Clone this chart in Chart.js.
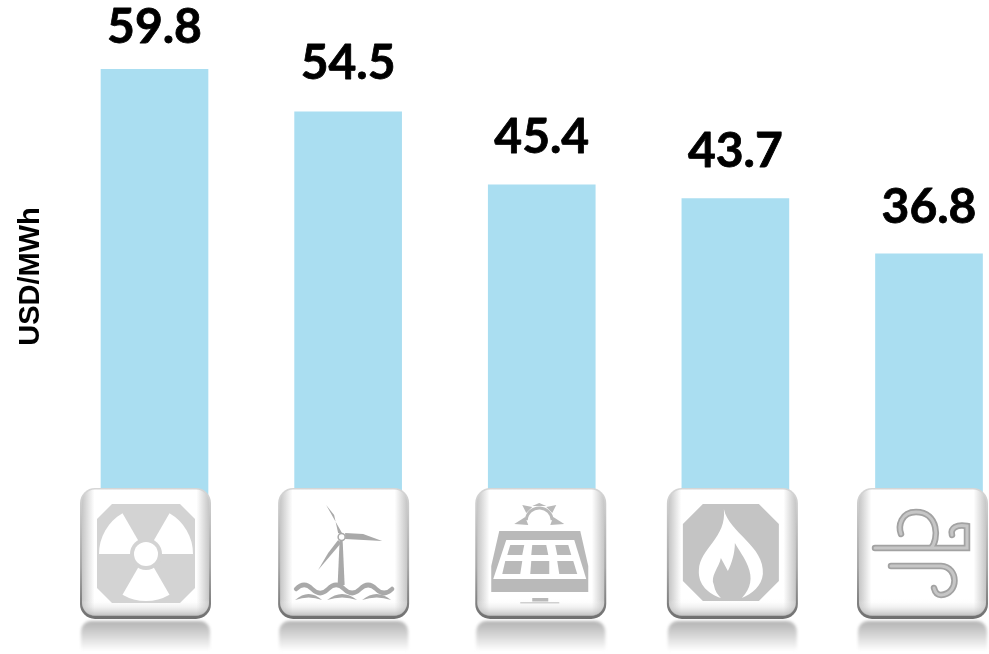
<!DOCTYPE html>
<html>
<head>
<meta charset="utf-8">
<script src="https://cdn.jsdelivr.net/npm/chart.js@4"></script>
<style>
  html, body { margin: 0; padding: 0; background: #fff; overflow: hidden; }
  #wrap { position: relative; width: 989px; height: 654px; }
</style>
</head>
<body>
<div id="wrap"><canvas id="chart"></canvas></div>
<script>
const categories = ["Nuclear", "Offshore wind", "Solar PV", "Gas", "Onshore wind"];
const lcoeValues = [59.8, 54.5, 45.4, 43.7, 36.8];
const valueLabels = ["59.8", "54.5", "45.4", "43.7", "36.8"];
const iconNames = ["nuclear", "offshore", "solar", "gas", "wind"];
// tiles sit a bit left of the bars in the original
const tileShift = [-9, -4.5, -1, -3, -6.5];
// gap between a bar top and its label baseline
const labelGap = [26, 33, 32, 32, 31];

const TILE = 131;
const TILE_TOP = 488;

function octagon(ctx, x0, y0, x1, y1, c) {
  ctx.beginPath();
  ctx.moveTo(x0 + c, y0);
  ctx.lineTo(x1 - c, y0);
  ctx.lineTo(x1, y0 + c);
  ctx.lineTo(x1, y1 - c);
  ctx.lineTo(x1 - c, y1);
  ctx.lineTo(x0 + c, y1);
  ctx.lineTo(x0, y1 - c);
  ctx.lineTo(x0, y0 + c);
  ctx.closePath();
  ctx.fill();
}

function drawNuclear(ctx) {
  ctx.fillStyle = "#d3d3d3";
  octagon(ctx, 17, 16, 115, 115, 15);
  ctx.fillStyle = "#fff";
  [[Math.PI, Math.PI * 4 / 3], [Math.PI * 5 / 3, Math.PI * 2], [Math.PI / 3, Math.PI * 2 / 3]].forEach((a) => {
    ctx.beginPath();
    ctx.moveTo(66, 66);
    ctx.arc(66, 66, 47, a[0], a[1]);
    ctx.closePath();
    ctx.fill();
  });
  ctx.fillStyle = "#d3d3d3";
  ctx.beginPath();
  ctx.arc(66, 66, 16, 0, Math.PI * 2);
  ctx.fill();
  ctx.fillStyle = "#fff";
  ctx.beginPath();
  ctx.arc(66, 66, 12, 0, Math.PI * 2);
  ctx.fill();
}

function wave(ctx, x0, y, step, amp, count) {
  ctx.beginPath();
  ctx.moveTo(x0, y);
  for (let i = 0; i < count; i++) {
    ctx.quadraticCurveTo(x0 + step * (i + 0.5), y + (i % 2 ? amp : -amp), x0 + step * (i + 1), y);
  }
  ctx.stroke();
}

function drawOffshore(ctx) {
  ctx.fillStyle = "#a9a9a9";
  // tower
  ctx.beginPath();
  ctx.moveTo(61.5, 52);
  ctx.lineTo(64.5, 52);
  ctx.lineTo(66.5, 97);
  ctx.lineTo(59.5, 97);
  ctx.closePath();
  ctx.fill();
  // blades
  [[[48, 17], [56, 27], [60, 45], [65, 47]],
   [[104, 53], [85, 46], [67, 45], [67, 51]],
   [[40, 82], [50, 65], [60, 52], [63, 55]]].forEach((b) => {
    ctx.beginPath();
    ctx.moveTo(b[0][0], b[0][1]);
    ctx.lineTo(b[1][0], b[1][1]);
    ctx.lineTo(b[2][0], b[2][1]);
    ctx.lineTo(b[3][0], b[3][1]);
    ctx.closePath();
    ctx.fill();
  });
  ctx.fillStyle = "#fff";
  ctx.strokeStyle = "#a9a9a9";
  ctx.lineWidth = 1.5;
  ctx.beginPath();
  ctx.arc(63.5, 49, 3.5, 0, Math.PI * 2);
  ctx.fill();
  ctx.stroke();
  ctx.lineWidth = 4.5;
  ctx.lineCap = "round";
  wave(ctx, 18, 101, 16, 8, 6);
  ctx.lineCap = "butt";
  [[17, 44], [49, 79], [84, 113]].forEach((w) => {
    ctx.fillStyle = "#a9a9a9";
    ctx.beginPath();
    ctx.moveTo(w[0], 112);
    ctx.quadraticCurveTo((w[0] + w[1]) / 2, 100, w[1], 112);
    ctx.quadraticCurveTo((w[0] + w[1]) / 2, 107, w[0], 112);
    ctx.fill();
  });
}

function drawSolar(ctx) {
  ctx.fillStyle = "#b9b9b9";
  ctx.strokeStyle = "#b9b9b9";
  ctx.lineWidth = 3;
  ctx.beginPath();
  ctx.arc(64, 33, 13, Math.PI * 1.02, Math.PI * 1.98);
  ctx.stroke();
  [[[39, 36], [50, 29], [53, 37]], [[89, 36], [78, 29], [75, 37]],
   [[47, 17], [57, 19], [51, 25]], [[81, 17], [71, 19], [77, 25]],
   [[57, 18], [64, 15], [71, 18]]].forEach((t) => {
    ctx.beginPath();
    ctx.moveTo(t[0][0], t[0][1]);
    ctx.lineTo(t[1][0], t[1][1]);
    ctx.lineTo(t[2][0], t[2][1]);
    ctx.closePath();
    ctx.fill();
  });
  // panel body
  ctx.beginPath();
  ctx.moveTo(24, 43);
  ctx.lineTo(105, 43);
  ctx.lineTo(113, 78);
  ctx.lineTo(113, 104);
  ctx.lineTo(16, 104);
  ctx.lineTo(16, 78);
  ctx.closePath();
  ctx.fill();
  ctx.fillStyle = "#fff";
  ctx.beginPath();
  ctx.moveTo(31, 52);
  ctx.lineTo(99, 52);
  ctx.lineTo(111, 91);
  ctx.lineTo(18, 91);
  ctx.closePath();
  ctx.fill();
  ctx.fillStyle = "#b9b9b9";
  [[[35, 57], [49, 57], [47, 67], [32, 67]],
   [[57, 57], [71, 57], [73, 67], [56, 67]],
   [[80, 57], [93, 57], [96, 67], [82, 67]],
   [[30, 73], [47, 73], [45, 86], [27, 86]],
   [[56, 73], [74, 73], [74, 86], [55, 86]],
   [[82, 73], [98, 73], [102, 86], [84, 86]]].forEach((c) => {
    ctx.beginPath();
    ctx.moveTo(c[0][0], c[0][1]);
    ctx.lineTo(c[1][0], c[1][1]);
    ctx.lineTo(c[2][0], c[2][1]);
    ctx.lineTo(c[3][0], c[3][1]);
    ctx.closePath();
    ctx.fill();
  });
  ctx.fillRect(57, 110, 16, 3.5);
  ctx.fillStyle = "#d0d0d0";
  ctx.fillRect(45, 114, 39, 1.5);
}

function drawGas(ctx) {
  ctx.fillStyle = "#c4c4c4";
  octagon(ctx, 16, 16, 112, 113, 20);
  ctx.fillStyle = "#fff";
  ctx.beginPath();
  ctx.moveTo(57, 21);
  ctx.bezierCurveTo(62, 45, 98, 58, 96, 86);
  ctx.bezierCurveTo(95, 98, 85, 106, 75, 110);
  ctx.bezierCurveTo(84, 100, 86, 90, 81, 78);
  ctx.bezierCurveTo(78, 70, 72, 62, 68, 55);
  ctx.bezierCurveTo(68, 65, 65, 75, 61, 83);
  ctx.lineTo(54, 70);
  ctx.bezierCurveTo(52, 80, 43, 88, 47, 97);
  ctx.bezierCurveTo(48, 103, 51, 107, 54, 110);
  ctx.bezierCurveTo(42, 106, 31, 97, 32, 82);
  ctx.bezierCurveTo(33, 60, 60, 50, 57, 21);
  ctx.closePath();
  ctx.fill();
}

function drawWind(ctx) {
  function gust() {
    ctx.beginPath();
    ctx.moveTo(18, 60);
    ctx.lineTo(74, 60);
    ctx.bezierCurveTo(82, 52, 82, 24, 59, 24);
    ctx.bezierCurveTo(44, 24, 41, 38, 44, 46);
    ctx.moveTo(74, 60);
    ctx.lineTo(110, 60);
    ctx.lineTo(110, 38);
    ctx.bezierCurveTo(100, 36, 93, 40, 95, 47);
    ctx.moveTo(34, 78);
    ctx.lineTo(84, 78);
    ctx.bezierCurveTo(102, 79, 102, 106, 84, 107);
    ctx.bezierCurveTo(80, 107, 78, 104, 77, 100);
    ctx.stroke();
  }
  ctx.lineCap = "round";
  ctx.strokeStyle = "#a2a2a2";
  ctx.lineWidth = 6.5;
  gust();
  ctx.strokeStyle = "#c6c6c6";
  ctx.lineWidth = 3;
  gust();
}

const iconDrawers = { nuclear: drawNuclear, offshore: drawOffshore, solar: drawSolar, gas: drawGas, wind: drawWind };

function drawTile(ctx, x, name) {
  const y = TILE_TOP;
  ctx.save();
  ctx.translate(x, y);

  // reflection, soft like the scaled bitmap in the original
  ctx.filter = "blur(1.5px)";
  const refl = ctx.createLinearGradient(0, 132, 0, 163);
  refl.addColorStop(0, "#b0b0b0");
  refl.addColorStop(0.5, "#d6d6d6");
  refl.addColorStop(1, "#ffffff");
  ctx.fillStyle = refl;
  ctx.beginPath();
  ctx.roundRect(1, 133, TILE - 2, 30, [10, 10, 0, 0]);
  ctx.fill();
  ctx.filter = "blur(0.5px)";

  // outer bevel
  const edge = ctx.createLinearGradient(0, 0, 0, TILE);
  edge.addColorStop(0, "#d6d6d6");
  edge.addColorStop(0.6, "#a8a8a8");
  edge.addColorStop(1, "#6f6f6f");
  ctx.fillStyle = edge;
  ctx.beginPath();
  ctx.roundRect(0, 0, TILE, TILE, 15);
  ctx.fill();

  // face
  const face = ctx.createLinearGradient(0, 0, TILE, 0);
  face.addColorStop(0, "#bdbdbd");
  face.addColorStop(0.11, "#ffffff");
  face.addColorStop(0.89, "#ffffff");
  face.addColorStop(1, "#bdbdbd");
  ctx.fillStyle = face;
  ctx.beginPath();
  ctx.roundRect(2, 1.5, TILE - 4, TILE - 5, 13);
  ctx.fill();

  const shade = ctx.createLinearGradient(0, TILE - 20, 0, TILE - 3);
  shade.addColorStop(0, "rgba(255,255,255,0)");
  shade.addColorStop(1, "rgba(170,170,170,0.75)");
  ctx.fillStyle = shade;
  ctx.beginPath();
  ctx.roundRect(2, TILE - 20, TILE - 4, 17, [0, 0, 13, 13]);
  ctx.fill();

  ctx.filter = "blur(0.6px)";
  iconDrawers[name](ctx);
  ctx.restore();
}

const tilePlugin = {
  id: "tiles",
  afterDatasetsDraw(chart) {
    const ctx = chart.ctx;
    const xScale = chart.scales.x;
    ctx.save();
    iconNames.forEach((name, i) => {
      const x = xScale.getPixelForValue(i) + tileShift[i] - TILE / 2;
      drawTile(ctx, x, name);
    });
    ctx.restore();
  },
};

const valueLabelPlugin = {
  id: "valueLabels",
  afterDatasetsDraw(chart) {
    const ctx = chart.ctx;
    const bars = chart.getDatasetMeta(0).data;
    ctx.save();
    ctx.fillStyle = "#000";
    ctx.strokeStyle = "#000";
    ctx.lineWidth = 0.8;
    ctx.lineJoin = "round";
    ctx.font = "bold 48px Lato";
    ctx.textAlign = "center";
    ctx.textBaseline = "alphabetic";
    bars.forEach((bar, i) => {
      ctx.fillText(valueLabels[i], bar.x, bar.y - labelGap[i]);
      ctx.strokeText(valueLabels[i], bar.x, bar.y - labelGap[i]);
    });
    ctx.restore();
  },
};

new Chart(document.getElementById("chart").getContext("2d"), {
  type: "bar",
  data: {
    labels: categories,
    datasets: [
      {
        data: lcoeValues,
        backgroundColor: "#aadef1",
        barThickness: 107,
        clip: false,
      },
    ],
  },
  options: {
    responsive: true,
    maintainAspectRatio: false,
    animation: false,
    layout: { padding: { left: 14, right: 60, top: 4, bottom: 105 } },
    plugins: { legend: { display: false }, tooltip: { enabled: false } },
    scales: {
      x: {
        offset: false,
        afterFit(scale) { scale.height = 0; },
        ticks: { display: false },
        grid: { display: false },
        border: { display: false },
      },
      y: {
        min: 0,
        max: 67.96,
        afterFit(scale) { scale.width = 140.5; },
        ticks: { display: false },
        grid: { display: false },
        border: { display: false },
        title: {
          display: true,
          text: "USD/MWh",
          color: "#000",
          font: { family: "'Liberation Sans'", size: 29, weight: "bold" },
          padding: 0,
        },
      },
    },
  },
  plugins: [tilePlugin, valueLabelPlugin],
});
</script>
</body>
</html>
